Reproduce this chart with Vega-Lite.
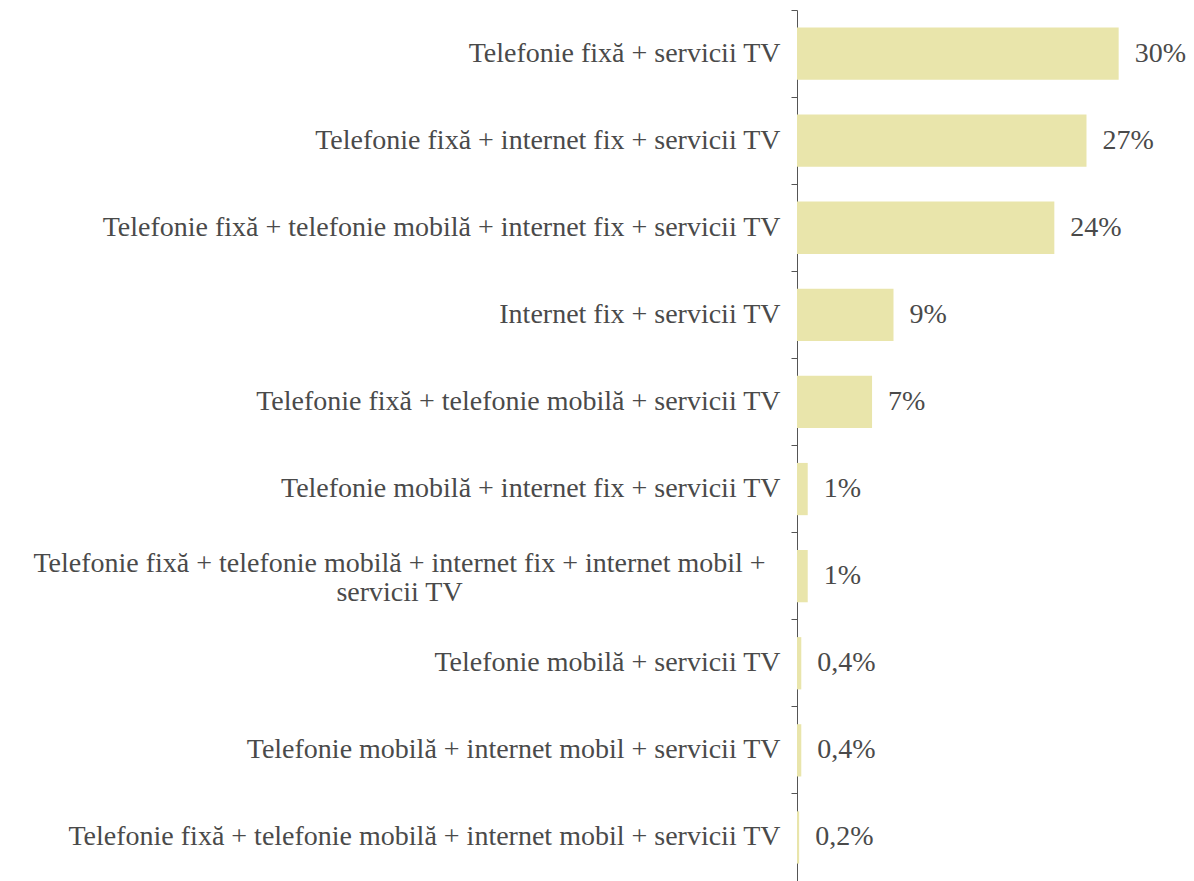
{
  "$schema": "https://vega.github.io/schema/vega-lite/v6.json",
  "autosize": "none",
  "padding": {"left": 797, "top": 10, "right": 11, "bottom": 0},
  "width": 386,
  "height": 871,
  "config": {
    "view": {"stroke": null},
    "locale": {"number": {"decimal": ",", "thousands": ".", "grouping": [3], "currency": ["", " lei"]}}
  },
  "data": {
    "values": [
      {"pachet": "Telefonie fixă + servicii TV", "share": 0.30},
      {"pachet": "Telefonie fixă + internet fix + servicii TV", "share": 0.27},
      {"pachet": "Telefonie fixă + telefonie mobilă + internet fix + servicii TV", "share": 0.24},
      {"pachet": "Internet fix + servicii TV", "share": 0.09},
      {"pachet": "Telefonie fixă + telefonie mobilă + servicii TV", "share": 0.07},
      {"pachet": "Telefonie mobilă + internet fix + servicii TV", "share": 0.01},
      {"pachet": "Telefonie fixă + telefonie mobilă + internet fix + internet mobil + servicii TV", "share": 0.01},
      {"pachet": "Telefonie mobilă + servicii TV", "share": 0.004},
      {"pachet": "Telefonie mobilă + internet mobil + servicii TV", "share": 0.004},
      {"pachet": "Telefonie fixă + telefonie mobilă + internet mobil + servicii TV", "share": 0.002}
    ]
  },
  "encoding": {
    "y": {
      "field": "pachet",
      "type": "nominal",
      "sort": null,
      "title": null,
      "scale": {"paddingInner": 0, "paddingOuter": 0},
      "axis": {
        "bandPosition": 0,
        "domainColor": "#555555",
        "tickColor": "#555555",
        "tickSize": 6,
        "labelFont": "Liberation Serif",
        "labelFontSize": 28,
        "labelColor": "#4a4a4a",
        "labelLimit": 0,
        "labelLineHeight": 29,
        "labelOffset": {
          "condition": {"test": "datum.value == 'Telefonie fixă + telefonie mobilă + internet fix + internet mobil + servicii TV'", "value": -12},
          "value": 0
        },
        "labelPadding": {
          "condition": {"test": "datum.value == 'Telefonie fixă + telefonie mobilă + internet fix + internet mobil + servicii TV'", "value": 392},
          "value": 11
        },
        "labelAlign": {
          "condition": {"test": "datum.value == 'Telefonie fixă + telefonie mobilă + internet fix + internet mobil + servicii TV'", "value": "center"},
          "value": "right"
        },
        "labelExpr": "datum.value == 'Telefonie fixă + telefonie mobilă + internet fix + internet mobil + servicii TV' ? ['Telefonie fixă + telefonie mobilă + internet fix + internet mobil +', 'servicii TV'] : datum.value"
      }
    }
  },
  "layer": [
    {
      "mark": {"type": "bar", "height": {"band": 0.6}, "color": "#e9e5ab"},
      "encoding": {
        "x": {"field": "share", "type": "quantitative", "scale": {"domain": [0, 0.36], "nice": false}, "axis": null}
      }
    },
    {
      "mark": {"type": "text", "align": "left", "baseline": "middle", "dx": 16, "font": "Liberation Serif", "fontSize": 28, "color": "#4a4a4a"},
      "encoding": {
        "x": {"field": "share", "type": "quantitative"},
        "text": {"field": "share", "format": ".1~%"}
      }
    }
  ]
}
